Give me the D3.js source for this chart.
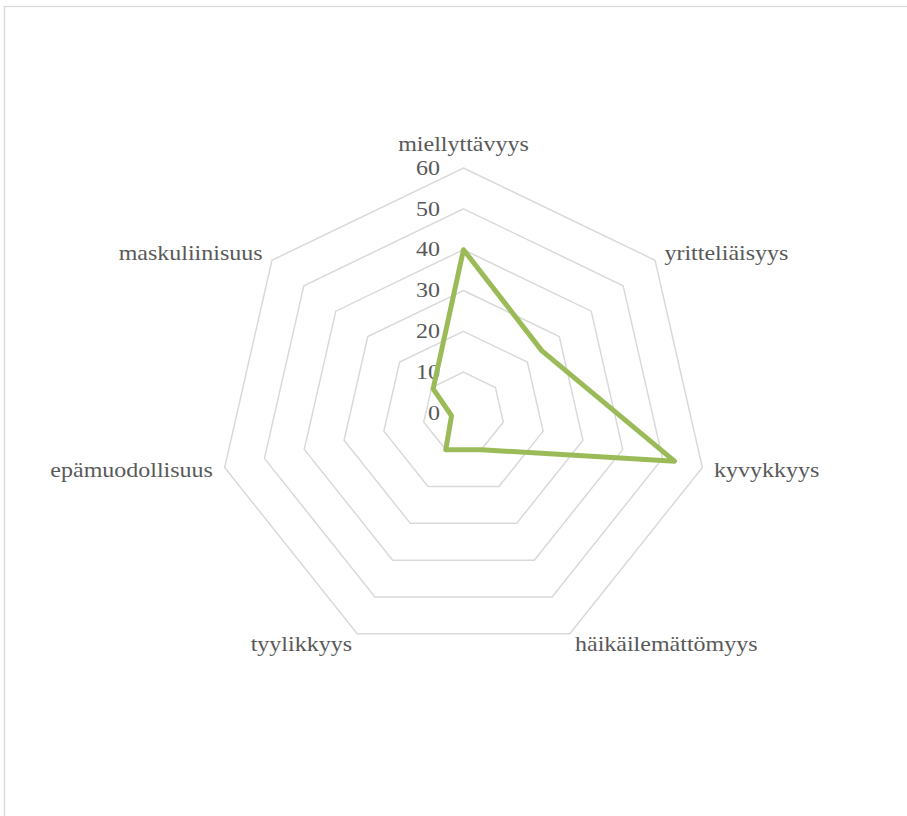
<!DOCTYPE html>
<html>
<head>
<meta charset="utf-8">
<script src="https://cdn.jsdelivr.net/npm/d3@7"></script>
<style>
  html, body { margin: 0; padding: 0; background: #ffffff; }
  svg { display: block; }
</style>
</head>
<body>
<svg id="chart" width="907" height="816"></svg>
<script>
const categories = ["miellyttävyys", "yritteliäisyys", "kyvykkyys", "häikäilemättömyys", "tyylikkyys", "epämuodollisuus", "maskuliinisuus"];
const values = [40, 24.5, 53, 10, 10, 3, 9.5];
const tickValues = [0, 10, 20, 30, 40, 50, 60];
const tickLabels = ["0", "10", "20", "30", "40", "50", "60"];

const width = 907, height = 816;
const cx = 463.5, cy = 413, R = 245;
const svg = d3.select("#chart");

// outer chart border (partially off canvas)
svg.append("rect")
  .attr("x", 4.5).attr("y", 6.5)
  .attr("width", 940).attr("height", 840)
  .attr("fill", "none").attr("stroke", "#d9d9d9").attr("stroke-width", 1.3);

const r = d3.scaleLinear().domain([0, 60]).range([0, R]);
const angle = d3.scaleLinear().domain([0, categories.length]).range([0, 2 * Math.PI]);

const g = svg.append("g").attr("transform", `translate(${cx},${cy})`);

// grid polygons
const gridLine = d3.lineRadial()
  .angle((d, i) => angle(i))
  .radius(d => r(d))
  .curve(d3.curveLinearClosed);

g.selectAll("path.grid")
  .data(tickValues.filter(v => v > 0))
  .join("path")
  .attr("class", "grid")
  .attr("d", v => gridLine(categories.map(() => v)))
  .attr("fill", "none")
  .attr("stroke", "#d9d9d9")
  .attr("stroke-width", 1.5);

const textColor = "#595959";
const fontFamily = "'Liberation Serif', 'Times New Roman', serif";
const sx = 1.2;

// tick labels
g.selectAll("g.tick")
  .data(tickValues)
  .join("g")
  .attr("class", "tick")
  .attr("transform", (v) => `translate(-23.5,${-r(v)}) scale(${sx},1)`)
  .append("text")
  .attr("text-anchor", "end")
  .attr("dominant-baseline", "central")
  .attr("font-family", fontFamily)
  .attr("font-size", 20)
  .attr("fill", textColor)
  .text((v, i) => tickLabels[i]);

// data line
const dataLine = d3.lineRadial()
  .angle((d, i) => angle(i))
  .radius(d => r(d))
  .curve(d3.curveLinearClosed);

g.append("path")
  .attr("d", dataLine(values))
  .attr("fill", "none")
  .attr("stroke", "#9bbb59")
  .attr("stroke-width", 5)
  .attr("stroke-linejoin", "round");

// category labels
const pad = 12;
g.selectAll("g.cat")
  .data(categories)
  .join("g")
  .attr("class", "cat")
  .attr("transform", (c, i) => {
    const a = angle(i);
    const s = Math.sin(a), co = Math.cos(a);
    let x = (R + pad) * s;
    let y = -(R + pad) * co;
    if (co > 0.95) y -= 12;
    return `translate(${x},${y}) scale(${sx},1)`;
  })
  .append("text")
  .attr("text-anchor", (c, i) => {
    const s = Math.sin(angle(i));
    return s > 0.1 ? "start" : (s < -0.1 ? "end" : "middle");
  })
  .attr("dominant-baseline", "central")
  .attr("font-family", fontFamily)
  .attr("font-size", 20)
  .attr("fill", textColor)
  .text(c => c);
</script>
</body>
</html>
